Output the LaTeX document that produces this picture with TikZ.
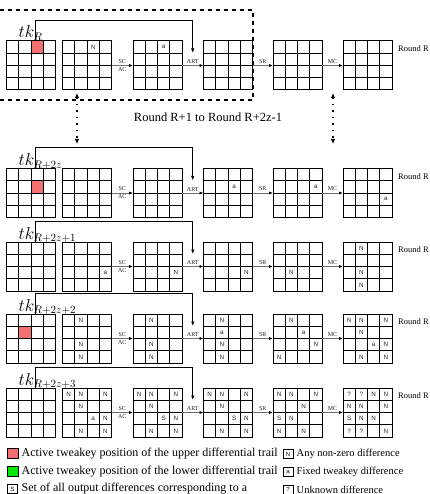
\documentclass[tikz,border=0pt]{standalone}
\usepackage{fontspec}
\setmainfont{Liberation Serif}
\setsansfont{Liberation Sans}
\usetikzlibrary{calc,arrows.meta}
\definecolor{upred}{RGB}{242,112,112}
\definecolor{lowgreen}{RGB}{0,230,0}
\definecolor{arrgray}{RGB}{110,110,110}
\newcommand\cellsz{12.25}
\newcommand\gridat[3]{%
  \node[gridnode] (#1) at (#2,#3) {};
  \foreach \k in {1,2,3} {
    \draw[gridline] ($(#1.north west)+(\k*\cellsz,0)$) -- ($(#1.south west)+(\k*\cellsz,0)$);
    \draw[gridline] ($(#1.north west)+(0,\k*\cellsz)$) -- ($(#1.north east)+(0,\k*\cellsz)$);
  }}
\newcommand\cm[4]{\node[celltxt] (#1-#2#3) at ($(#1.north west)+({(#3+0.5)*\cellsz},{(#2+0.5)*\cellsz})$) {#4};}
\newcommand\hc[4]{\node[hotcell,fill=#4] (#1-h) at ($(#1.north west)+({(#3+0.5)*\cellsz},{(#2+0.5)*\cellsz})$) {};}
\begin{document}
\begin{tikzpicture}[x=1pt,y=-1pt,
  gridnode/.style={draw,line width=1pt,minimum width=49pt,minimum height=49pt,inner sep=0pt,outer sep=0pt,anchor=north west},
  gridline/.style={line width=1pt},
  celltxt/.style={font=\sffamily\fontsize{6.3}{6.3}\selectfont,inner sep=0pt,text=black!85},
  hotcell/.style={draw,line width=1pt,minimum size=12.25pt,inner sep=0pt,outer sep=0pt},
  flow/.style={draw=arrgray,line width=1pt,-{Latex[length=4pt,width=3.2pt,color=black]}},
  oplbl/.style={font=\fontsize{6}{6}\selectfont,inner sep=1.5pt,text=black!85},
  tkpath/.style={line width=0.9pt,-{Latex[length=4.5pt,width=3.5pt]}},
  tklbl/.style={font=\fontsize{16}{16}\selectfont,inner sep=0pt,anchor=base west},
  roundlbl/.style={font=\fontsize{8.5}{8.5}\selectfont,inner sep=0pt,anchor=west},
  dashbox/.style={line width=1.6pt,dash pattern=on 4pt off 4pt},
  vdots/.style={line width=1.5pt,dash pattern=on 1.5pt off 5pt,{Latex[length=5pt,width=4.5pt]}-{Latex[length=5pt,width=4.5pt]}},
  legbox/.style={draw,line width=0.6pt,minimum width=11pt,minimum height=10pt,inner sep=0pt},
  legkey/.style={draw,line width=0.6pt,minimum width=10pt,minimum height=9pt,inner sep=0pt,font=\sffamily\fontsize{6}{6}\selectfont},
  legtxt/.style={font=\fontsize{12}{12}\selectfont,inner sep=0pt,anchor=west},
  legtxtr/.style={font=\fontsize{10}{10}\selectfont,inner sep=0pt,anchor=west}]
\useasboundingbox (0,0) rectangle (429,494);
\clip (0,0) rectangle (429,494);

% grids
\foreach \r/\y in {1/41,2/168.5,3/242,4/314,5/388} {
  \foreach \c/\x in {1/6.5,2/62.5,3/133,4/203.5,5/273,6/343} {
    \gridat{g\r\c}{\x}{\y}
  }
}

% active tweakey cells
\hc{g11}{0}{2}{upred}
\hc{g21}{1}{2}{upred}
\hc{g41}{1}{1}{upred}

% cell contents
\cm{g12}{0}{2}{N}
\cm{g13}{0}{2}{a}
\cm{g24}{1}{2}{a}
\cm{g25}{1}{3}{a}
\cm{g26}{2}{3}{a}
\cm{g32}{2}{3}{a}
\cm{g33}{2}{3}{N}
\cm{g34}{2}{3}{N}
\cm{g35}{2}{1}{N}
\foreach \i/\j/\t in {0/1/N,2/1/N,3/1/N} {\cm{g36}{\i}{\j}{\t}}
\foreach \i/\j/\t in {0/1/N,2/1/N,3/1/N} {\cm{g42}{\i}{\j}{\t}}
\foreach \i/\j/\t in {0/1/N,2/1/N,3/1/N} {\cm{g43}{\i}{\j}{\t}}
\foreach \i/\j/\t in {0/1/N,1/1/a,2/1/N,3/1/N} {\cm{g44}{\i}{\j}{\t}}
\foreach \i/\j/\t in {0/1/N,1/2/a,2/3/N,3/0/N} {\cm{g45}{\i}{\j}{\t}}
\foreach \i/\j/\t in {0/0/N,0/1/N,0/3/N,1/1/N,2/2/a,2/3/N,3/1/N,3/3/N} {\cm{g46}{\i}{\j}{\t}}
\foreach \i/\j/\t in {0/0/N,0/1/N,0/3/N,1/1/N,2/2/a,2/3/N,3/1/N,3/3/N} {\cm{g52}{\i}{\j}{\t}}
\foreach \i/\j/\t in {0/0/N,0/1/N,0/3/N,1/1/N,2/2/S,2/3/N,3/1/N,3/3/N} {\cm{g53}{\i}{\j}{\t}}
\foreach \i/\j/\t in {0/0/N,0/1/N,0/3/N,1/1/N,2/2/S,2/3/N,3/1/N,3/3/N} {\cm{g54}{\i}{\j}{\t}}
\foreach \i/\j/\t in {0/0/N,0/1/N,0/3/N,1/2/N,2/0/S,2/1/N,3/0/N,3/2/N} {\cm{g55}{\i}{\j}{\t}}
\foreach \i/\j/\t in {0/0/?,0/1/?,0/2/N,0/3/N,1/0/N,1/1/N,1/3/N,2/0/S,2/1/N,2/2/N,3/0/?,3/1/?,3/3/N} {\cm{g56}{\i}{\j}{\t}}

% operations between states
\foreach \r in {1,...,5} {
  \draw[flow] (g\r2.east) -- node[oplbl,above] (sc\r) {SC} node[oplbl,below] (ac\r) {AC} (g\r3.west);
  \draw[flow] (g\r3.east) -- node[oplbl,above] (art\r) {ART} (g\r4.west);
  \draw[flow] (g\r4.east) -- node[oplbl,above] (sr\r) {SR} (g\r5.west);
  \draw[flow] (g\r5.east) -- node[oplbl,above] (mc\r) {MC} (g\r6.west);
  \coordinate (k\r) at ($(g\r1.north west)+(28.5,0)$);
  \coordinate (p\r) at ($(g\r3.north east)!0.5!(g\r4.north west)+(0,12)$);
  \draw[tkpath] (k\r) -- ++(0,-21) -| (p\r);
}

% tweakey labels
\node[tklbl] (tk1) at ($(g11.north west)+(12,-3)$) {$tk_R$};
\node[tklbl] (tk2) at ($(g21.north west)+(12,-3)$) {$tk_{R+2z}$};
\node[tklbl] (tk3) at ($(g31.north west)+(12,-3)$) {$tk_{R+2z+1}$};
\node[tklbl] (tk4) at ($(g41.north west)+(12,-3)$) {$tk_{R+2z+2}$};
\node[tklbl] (tk5) at ($(g51.north west)+(12,-3)$) {$tk_{R+2z+3}$};

% round labels (as far as the picture shows them)
\foreach \r in {1,...,5} {
  \node[roundlbl] (rl\r) at ($(g\r6.north east)+(6,8)$) {Round R};
}

% dashed box around round R
\coordinate (bx1) at (0,10);
\coordinate (bx2) at (253,10);
\coordinate (bx3) at (253,100);
\coordinate (bx4) at (0,100);
\draw[dashbox] (bx1) -- (bx2) -- (bx3) -- (bx4);

% skipped rounds
\node[font=\fontsize{12.5}{12.5}\selectfont,inner sep=0pt] (skip) at (208,117) {Round R+1 to Round R+2z-1};
\coordinate (d1t) at (77,93);
\coordinate (d1b) at (77,144);
\coordinate (d2t) at (333,93);
\coordinate (d2b) at (333,144);
\draw[vdots] (d1t) -- (d1b);
\draw[vdots] (d2t) -- (d2b);

% legend
\node[legbox,fill=upred] (lb1) at (12.5,453.5) {};
\node[legtxt] (lt1) at (21.5,453.5) {Active tweakey position of the upper differential trail};
\node[legbox,fill=lowgreen] (lb2) at (12.5,471.5) {};
\node[legtxt] (lt2) at (21.5,471.5) {Active tweakey position of the lower differential trail};
\node[legkey] (lb3) at (12.5,489) {S};
\node[legtxt] (lt3) at (21.5,489) {Set of all output differences corresponding to a};
\node[legkey] (lb4) at (288,454) {N};
\node[legtxt,font=\fontsize{10.5}{10.5}\selectfont] (lt4) at (296.5,454) {Any non-zero difference};
\node[legkey] (lb5) at (288,472) {a};
\node[legtxt,font=\fontsize{10.5}{10.5}\selectfont] (lt5) at (296.5,472) {Fixed tweakey difference};
\node[legkey] (lb6) at (288,489.5) {?};
\node[legtxt,font=\fontsize{10.5}{10.5}\selectfont] (lt6) at (296.5,489.5) {Unknown difference};
\end{tikzpicture}
\end{document}
